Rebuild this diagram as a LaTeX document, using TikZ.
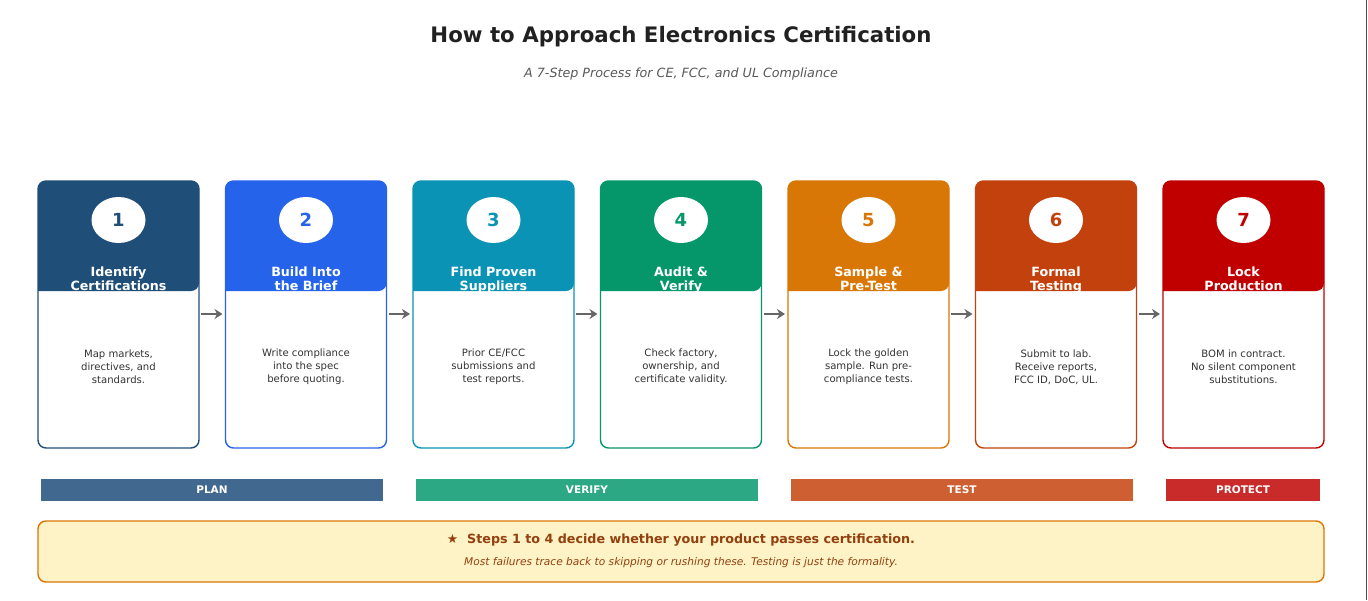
\documentclass[tikz,border=0pt]{standalone}
\usepackage{fontspec}
\setmainfont{DejaVu Sans}
\usetikzlibrary{positioning,arrows.meta,shapes.geometric}
\definecolor{cA}{HTML}{1F4E79}
\definecolor{cB}{HTML}{2563EB}
\definecolor{cC}{HTML}{0B93B5}
\definecolor{cD}{HTML}{059669}
\definecolor{cE}{HTML}{D97706}
\definecolor{cF}{HTML}{C2410C}
\definecolor{cG}{HTML}{C00000}
\definecolor{barplan}{HTML}{41698F}
\definecolor{barverify}{HTML}{2DA884}
\definecolor{bartest}{HTML}{CD5F33}
\definecolor{barprotect}{HTML}{C92A2A}
\definecolor{notefill}{HTML}{FEF3C7}
\definecolor{notetext}{HTML}{92400E}
\definecolor{bodytext}{HTML}{333333}
\tikzset{
    cardbox/.style={draw=#1, line width=1.4pt, rounded corners=8pt, fill=white},
    numdisc/.style={ellipse, fill=white, minimum width=54pt, minimum height=46pt, text=#1,
        font=\bfseries\fontsize{18}{18}\selectfont},
    cardtitle/.style={text=white, align=center, anchor=base, font=\bfseries\fontsize{12.7}{14}\selectfont},
    cardbody/.style={text=bodytext, align=center, font=\fontsize{10.1}{13.2}\selectfont},
    phasebar/.style={fill=#1, text=white, font=\bfseries\fontsize{10.5}{10.5}\selectfont},
    flowarrow/.style={-{Stealth[length=8pt,width=10pt]}, draw=black!60, line width=2pt},
}
\begin{document}
\begin{tikzpicture}[x=1pt, y=-1pt]
    \useasboundingbox (0,0) rectangle (1368,600);
    \fill[white] (0,0) rectangle (1368,600);
    \draw[black!70, line width=1.5pt] (1366.5,0) -- (1366.5,600);

    % title
    \node[text=black!87] (title) at (681,37) {\bfseries\fontsize{21.3}{21.3}\selectfont How to Approach Electronics Certification};
    \node[below=13pt of title, text=black!65] (subtitle) {\itshape\fontsize{12.7}{12.7}\selectfont A 7-Step Process for CE, FCC, and UL Compliance};

    % cards
    \foreach \i/\col/\ttl/\body in {%
        1/cA/{Identify\\Certifications}/{Map markets,\\directives, and\\standards.},
        2/cB/{Build Into\\the Brief}/{Write compliance\\into the spec\\before quoting.},
        3/cC/{Find Proven\\Suppliers}/{Prior CE/FCC\\submissions and\\test reports.},
        4/cD/{Audit \&\\Verify}/{Check factory,\\ownership, and\\certificate validity.},
        5/cE/{Sample \&\\Pre-Test}/{Lock the golden\\sample. Run pre-\\compliance tests.},
        6/cF/{Formal\\Testing}/{Submit to lab.\\Receive reports,\\FCC ID, DoC, UL.},
        7/cG/{Lock\\Production}/{BOM in contract.\\No silent component\\substitutions.}} {
        \pgfmathsetmacro{\xl}{38+187.5*(\i-1)}
        \draw[cardbox=\col] (\xl,181) rectangle ++(161,267);
        \fill[\col, rounded corners=8pt] (\xl,291) -- (\xl,181) -- (\xl+161,181) -- (\xl+161,291) [sharp corners] -- cycle;
        \node[numdisc=\col] (num\i) at (\xl+80.5,220) {\i};
        \node[cardtitle] (ttl\i) at (\xl+80.5,290) {\ttl};
        \node[cardbody] (body\i) at (\xl+80.5,367) {\body};
        \coordinate (left\i) at (\xl,314);
        \coordinate (right\i) at (\xl+161,314);
    }
    \foreach \i [evaluate=\i as \j using int(\i+1)] in {1,...,6} {
        \draw[flowarrow] ([xshift=2pt]right\i) -- ([xshift=-3pt]left\j);
    }

    % phases
    \node[phasebar=barplan, minimum width=342pt, minimum height=22pt] (plan) at (212,490) {PLAN};
    \node[phasebar=barverify, minimum width=342pt, minimum height=22pt] (verify) at (587,490) {VERIFY};
    \node[phasebar=bartest, minimum width=342pt, minimum height=22pt] (test) at (962,490) {TEST};
    \node[phasebar=barprotect, minimum width=154pt, minimum height=22pt] (protect) at (1243,490) {PROTECT};

    % note
    \draw[draw=cE, fill=notefill, line width=1.4pt, rounded corners=8pt] (38,521) rectangle (1324,582);
    \node[text=notetext] (notehead) at (681,540) {\bfseries\fontsize{12.7}{12.7}\selectfont ★\ \ Steps 1 to 4 decide whether your product passes certification.};
    \node[text=notetext] (notesub) at (681,563) {\itshape\fontsize{10.6}{10.6}\selectfont Most failures trace back to skipping or rushing these. Testing is just the formality.};
\end{tikzpicture}
\end{document}
